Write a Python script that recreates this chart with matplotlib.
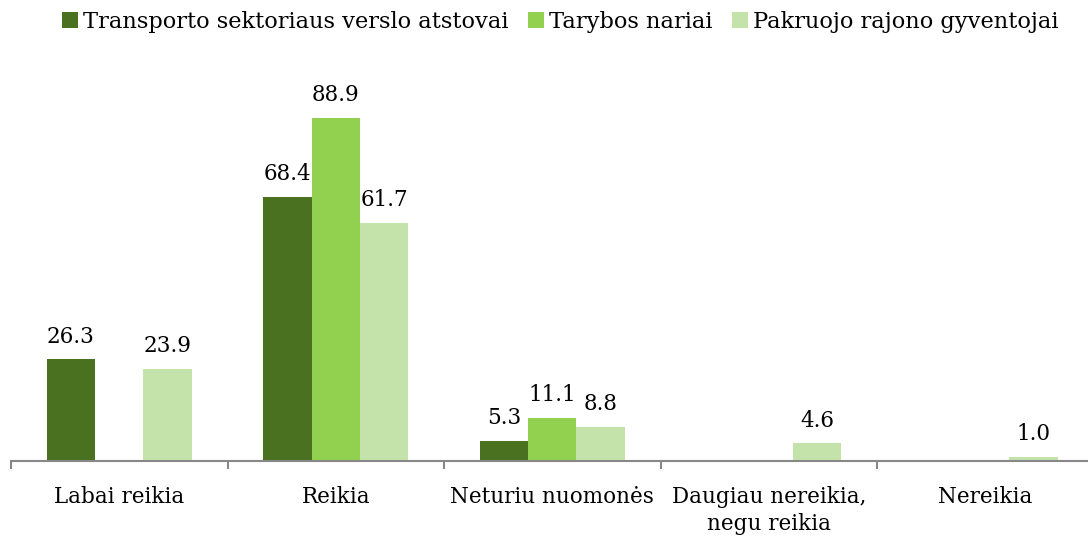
import numpy as np
import matplotlib
matplotlib.use("Agg")
import matplotlib.pyplot as plt

categories = ["Labai reikia", "Reikia", "Neturiu nuomonės", "Daugiau nereikia,\nnegu reikia", "Nereikia"]
series_names = ["Transporto sektoriaus verslo atstovai", "Tarybos nariai", "Pakruojo rajono gyventojai"]
transportas = [26.3, 68.4, 5.3, np.nan, np.nan]
taryba = [np.nan, 88.9, 11.1, np.nan, np.nan]
gyventojai = [23.9, 61.7, 8.8, 4.6, 1.0]
colors = ["#4a7120", "#92d050", "#c4e3ab"]

plt.rcParams['font.family'] = ['DejaVu Serif']

fig = plt.figure(figsize=(10.88, 5.38), dpi=100)
ax = fig.add_axes([11 / 1088, 77 / 538, 1082.5 / 1088, 386 / 538])

x = np.arange(len(categories))
w = 0.224
for i, (vals, name, c) in enumerate(zip([transportas, taryba, gyventojai], series_names, colors)):
    pos = x + (i - 1) * w
    ax.bar(pos, vals, width=w, color=c, label=name)
    for p, v in zip(pos, vals):
        if not np.isnan(v):
            ax.annotate(f"{v:.1f}", (p, v), xytext=(0, 12), textcoords="offset points",
                        ha="center", va="baseline", fontsize=15.5)

ax.set_xlim(-0.5, len(categories) - 0.5)
ax.set_ylim(0, 100)
ax.set_yticks([])
for s in ["top", "right", "left"]:
    ax.spines[s].set_visible(False)
ax.spines["bottom"].set_color("#888888")
ax.spines["bottom"].set_linewidth(1.5)
ax.set_xticks(np.arange(len(categories) + 1) - 0.5)
ax.set_xticklabels([])
ax.tick_params(axis="x", length=6, color="#888888", width=1.5)
for xi, lab in zip(x, categories):
    ax.annotate(lab, (xi, 0), xytext=(0, -18), textcoords="offset points",
                ha="center", va="top", fontsize=15.5, linespacing=1.3,
                annotation_clip=False)

fig.legend(loc="center", bbox_to_anchor=(0.515, 1 - 22 / 538), ncol=3, frameon=False,
           fontsize=16.2, handlelength=0.7, handleheight=0.7, handletextpad=0.2,
           columnspacing=0.9, borderpad=0)

fig.savefig("out.png", dpi=100)
